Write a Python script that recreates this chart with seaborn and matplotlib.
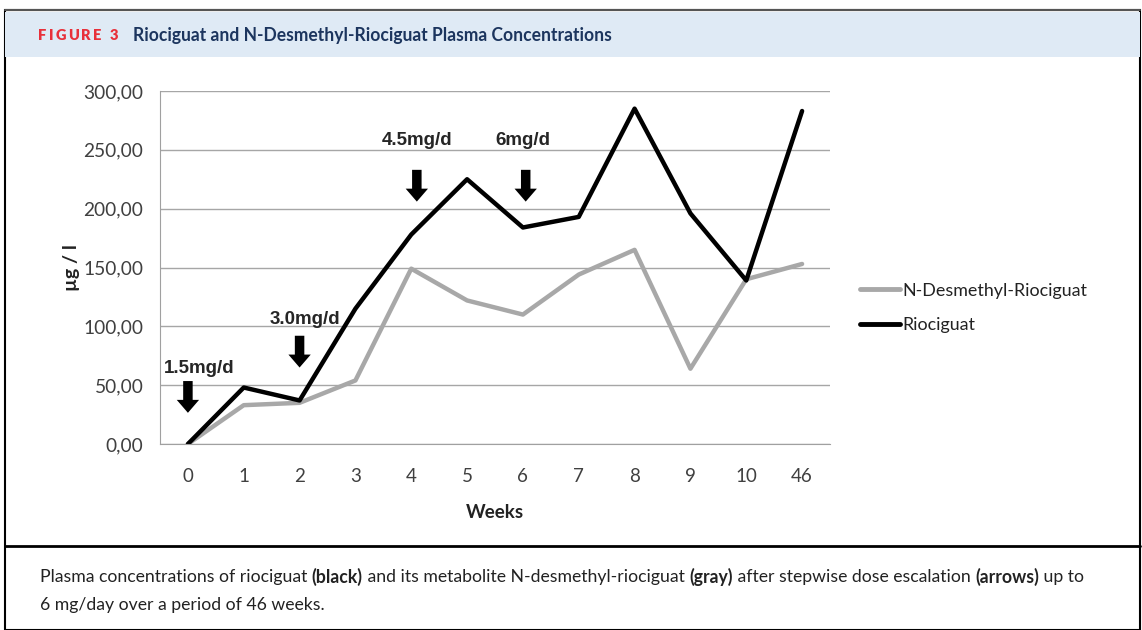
import numpy as np
import pandas as pd
import matplotlib
matplotlib.use("Agg")
import matplotlib.pyplot as plt
import seaborn as sns
from matplotlib.patches import Rectangle, FancyArrow
from matplotlib.lines import Line2D

weeks = ["0", "1", "2", "3", "4", "5", "6", "7", "8", "9", "10", "46"]
riociguat = [0, 48, 37, 115, 178, 225, 184, 193, 285, 196, 139, 283]
desmethyl = [0, 33, 35, 54, 149, 122, 110, 144, 165, 64, 140, 153]
yticks = [0, 50, 100, 150, 200, 250, 300]
dose_labels = ["1.5mg/d", "3.0mg/d", "4.5mg/d", "6mg/d"]
dose_week_idx = [0, 2, 4.1, 6.05]

sns.set_style("white")
plt.rcParams['font.family'] = ['Lato', 'DejaVu Sans']

W, H = 1142, 630
df = pd.DataFrame({
    "idx": list(range(len(weeks))) * 2,
    "val": desmethyl + riociguat,
    "series": ["N-Desmethyl-Riociguat"] * len(weeks) + ["Riociguat"] * len(weeks),
})

fig = plt.figure(figsize=(W / 100, H / 100), dpi=100)
renderer = fig.canvas.get_renderer()

def fx(px):
    return px / W

def fy(py):
    return 1 - py / H

def width_of(t):
    return t.get_window_extent(renderer=renderer).width

# frame and header band
fig.patches.append(Rectangle((fx(5), 0), fx(1135), 620 / H, transform=fig.transFigure,
                             fill=False, edgecolor="black", lw=1.5, zorder=0))
fig.patches.append(Rectangle((fx(5), fy(57)), fx(1135), 45 / H, transform=fig.transFigure,
                             facecolor="#dfeaf5", edgecolor="none", zorder=0))
fig.add_artist(Line2D([fx(5), fx(1140)], [fy(546), fy(546)], transform=fig.transFigure,
                      color="black", lw=2))
fig.add_artist(Line2D([fx(5), fx(1140)], [fy(10), fy(10)], transform=fig.transFigure,
                      color="#555555", lw=1.5))

# "FIGURE 3" with letter spacing
x = 38
for ch in "FIGURE 3":
    t = fig.text(fx(x), fy(35), ch, color="#e8303a", fontsize=10.5, fontweight="heavy",
                 va="center")
    x += width_of(t) + 2.3 if ch != " " else 6
title = fig.text(fx(133), fy(35), "Riociguat and N-Desmethyl-Riociguat Plasma Concentrations",
                 color="#1c355e", fontsize=11.5, fontweight="bold", va="center")
title.set_fontsize(11.5 * 479 / width_of(title))

ax = fig.add_axes([fx(160), fy(444), fx(670), 353 / H])
sns.lineplot(data=df, x="idx", y="val", hue="series", ax=ax,
             palette={"N-Desmethyl-Riociguat": "#a8a8a8", "Riociguat": "black"},
             linewidth=3.2, legend=False)

ax.set_xlim(-0.5, len(weeks) - 0.5)
ax.set_ylim(0, 300)
ax.set_yticks(yticks)
ax.set_yticklabels([f"{v},00" for v in yticks])
ax.set_xticks(range(len(weeks)))
ax.set_xticklabels(weeks)
ax.set_xticks(np.arange(-0.5, len(weeks)), minor=True)
ax.tick_params(axis="x", which="major", length=0, pad=17, labelsize=13.5, labelcolor="#404040")
ax.tick_params(axis="x", which="minor", length=5, color="#a0a0a0", direction="out")
ax.tick_params(axis="y", length=6, color="#a6a6a6", labelsize=13.8, labelcolor="#404040", pad=6)
ax.grid(axis="y", color="#a6a6a6", lw=1)
ax.set_axisbelow(True)
for s in ["top", "right"]:
    ax.spines[s].set_visible(False)
for s in ["left", "bottom"]:
    ax.spines[s].set_color("#a0a0a0")
ax.set_xlabel("Weeks", fontsize=13.5, fontweight="bold", color="#222222")
ax.xaxis.set_label_coords(0.5, -0.17)
ax.set_ylabel("µg / l", fontsize=14, fontweight="bold", color="#222222")
ax.yaxis.set_label_coords(-0.12, 0.5)

# dose arrows
arrow_tops = [53.5, 92, 233, 233]
text_y = [64, 106, 258, 258]
text_x = [0.2, 2.1, 4.1, 6.0]
for lab, xi, top, tx, ty in zip(dose_labels, dose_week_idx, arrow_tops, text_x, text_y):
    ax.add_patch(FancyArrow(xi, top, 0, -27, width=0.17, head_width=0.4, head_length=11,
                            length_includes_head=True, color="black", lw=0, zorder=5))
    ax.text(tx, ty, lab, ha="center", va="center", fontsize=13.5, fontweight="bold",
            family=["Liberation Sans", "DejaVu Sans"], zorder=5)

handles = [Line2D([], [], color="#a8a8a8", lw=3.5), Line2D([], [], color="black", lw=3.5)]
fig.legend(handles, ["N-Desmethyl-Riociguat", "Riociguat"], loc="center left",
           bbox_to_anchor=(fx(844), fy(308)), frameon=False, fontsize=12.9,
           handlelength=2.2, handletextpad=0.15, labelspacing=1.05, labelcolor="#222222")

# caption with bold parts
def write_line(parts, x0, y0, size):
    x = x0
    for txt, bold in parts:
        t = fig.text(fx(x), fy(y0), txt, fontsize=size, fontweight="bold" if bold else "normal",
                     color="#222222", va="center")
        x += width_of(t)
    return x - x0

line1 = [("Plasma concentrations of riociguat ", False), ("(black)", True),
         (" and its metabolite N-desmethyl-riociguat ", False), ("(gray)", True),
         (" after stepwise dose escalation ", False), ("(arrows)", True), (" up to", False)]
probe = plt.figure()
probe_r = probe.canvas.get_renderer()
total = 0
for txt, bold in line1:
    t = probe.text(0, 0, txt, fontsize=11, fontweight="bold" if bold else "normal")
    total += t.get_window_extent(renderer=probe_r).width
plt.close(probe)
cap_size = 11 * 1041 / total
write_line(line1, 40, 577, cap_size)
write_line([("6 mg/day over a period of 46 weeks.", False)], 40, 605, cap_size)

fig.savefig("out.png", dpi=100)
